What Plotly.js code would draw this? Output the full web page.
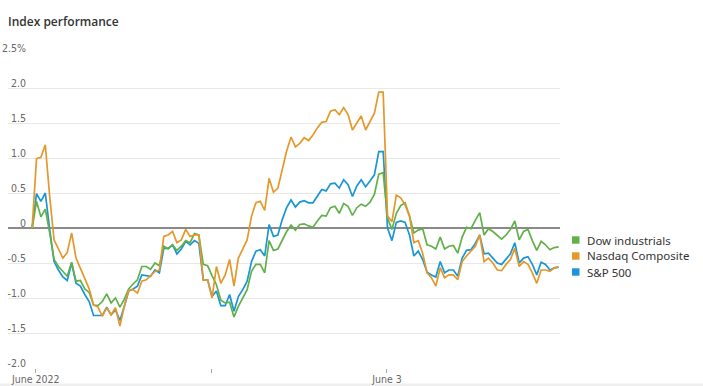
<!DOCTYPE html>
<html>
<head>
<meta charset="utf-8">
<script src="https://cdn.plot.ly/plotly-3.0.1.min.js"></script>
<style>
  html, body { margin: 0; padding: 0; background: #fff; }
  #chart { width: 703px; height: 386px; }
</style>
</head>
<body>
<div id="chart"></div>
<script>
// ---- Data (percent change) ----
const seriesNames = ['Dow industrials', 'Nasdaq Composite', 'S&P 500'];
const seriesColors = ['#62b04a', '#e5982a', '#1a96d5'];

const dow = [0, 0.38, 0.16, 0.27, -0.07, -0.45, -0.55, -0.62, -0.69, -0.49,
  -0.76, -0.75, -0.87, -0.92, -1.10, -1.11, -1.05, -0.94, -1.07, -1.00,
  -1.13, -1.02, -0.87, -0.80, -0.74, -0.55, -0.55, -0.59, -0.50, -0.54,
  -0.26, -0.30, -0.24, -0.32, -0.26, -0.18, -0.21, -0.08, -0.10, -0.52,
  -0.54, -0.68, -0.81, -1.03, -1.07, -1.06, -1.27, -1.12, -1.01, -0.88,
  -0.62, -0.52, -0.52, -0.64, -0.18, -0.32, -0.30, -0.17, -0.05, 0.04,
  -0.03, 0.05, 0.06, 0.03, 0.01, 0.10, 0.18, 0.17, 0.29, 0.31,
  0.21, 0.35, 0.31, 0.18, 0.29, 0.34, 0.31, 0.37, 0.48, 0.77,
  0.79, 0.14, -0.02, 0.21, 0.32, 0.36, 0.17, -0.07, -0.03, -0.01,
  -0.24, -0.26, -0.30, -0.13, -0.30, -0.26, -0.25, -0.36, -0.13, 0.01,
  -0.01, 0.11, 0.22, -0.10, -0.01, -0.05, -0.10, -0.16, -0.10, -0.02,
  0.10, -0.17, -0.05, -0.02, -0.18, -0.32, -0.19, -0.24, -0.31, -0.28,
  -0.27];

const nasdaq = [0, 0.99, 1.01, 1.19, 0.45, -0.17, -0.30, -0.43, -0.35, -0.07,
  -0.43, -0.57, -0.71, -0.87, -1.10, -1.13, -1.26, -1.14, -1.24, -1.14,
  -1.40, -1.12, -0.89, -0.88, -0.93, -0.76, -0.74, -0.68, -0.62, -0.60,
  -0.12, -0.10, -0.05, -0.21, -0.17, -0.02, -0.12, -0.10, -0.10, -0.74,
  -0.74, -1.00, -0.55, -0.79, -0.67, -0.45, -0.83, -0.43, -0.31, -0.17,
  0.17, 0.36, 0.38, 0.25, 0.71, 0.51, 0.57, 0.83, 1.10, 1.30,
  1.16, 1.21, 1.29, 1.25, 1.33, 1.43, 1.51, 1.52, 1.67, 1.69,
  1.62, 1.72, 1.62, 1.40, 1.51, 1.60, 1.40, 1.52, 1.64, 1.94,
  1.94, 0.17, 0.09, 0.47, 0.43, 0.33, 0.17, -0.21, -0.18, -0.36,
  -0.64, -0.71, -0.83, -0.57, -0.71, -0.67, -0.67, -0.74, -0.48, -0.40,
  -0.33, -0.26, -0.10, -0.48, -0.43, -0.50, -0.60, -0.61, -0.52, -0.45,
  -0.29, -0.55, -0.48, -0.52, -0.64, -0.79, -0.60, -0.60, -0.62, -0.57,
  -0.56];

const sp500 = [0, 0.49, 0.38, 0.50, -0.02, -0.48, -0.60, -0.70, -0.75, -0.50,
  -0.79, -0.83, -0.95, -1.05, -1.25, -1.25, -1.25, -1.13, -1.24, -1.17,
  -1.32, -1.12, -0.90, -0.87, -0.83, -0.67, -0.68, -0.69, -0.60, -0.64,
  -0.29, -0.29, -0.24, -0.37, -0.30, -0.19, -0.24, -0.18, -0.22, -0.74,
  -0.74, -0.98, -0.90, -1.11, -1.11, -0.95, -1.19, -0.98, -0.88, -0.76,
  -0.48, -0.33, -0.31, -0.40, 0.05, -0.12, -0.10, 0.12, 0.29, 0.40,
  0.30, 0.37, 0.39, 0.36, 0.36, 0.45, 0.55, 0.53, 0.63, 0.64,
  0.57, 0.69, 0.62, 0.45, 0.60, 0.69, 0.59, 0.67, 0.76, 1.09,
  1.09, 0.00, -0.18, 0.08, 0.10, 0.08, -0.10, -0.40, -0.33, -0.45,
  -0.63, -0.67, -0.70, -0.48, -0.64, -0.60, -0.60, -0.69, -0.43, -0.32,
  -0.31, -0.22, -0.10, -0.37, -0.36, -0.43, -0.50, -0.52, -0.45, -0.37,
  -0.21, -0.50, -0.43, -0.41, -0.52, -0.67, -0.49, -0.52, -0.60, -0.57,
  -0.56];

// Time steps (intraday sample index) and axis tick labels
const steps = dow.map((_, i) => i);
const xTickVals = [0.84, 40.85, 80.87];
const xTickText = ['June 2022', '', 'June 3'];
const yTickVals = [2.5, 2.0, 1.5, 1.0, 0.5, 0, -0.5, -1.0, -1.5, -2.0];
const yTickText = ['2.5%', '2.0', '1.5', '1.0', '0.5', '0', '-0.5', '-1.0', '-1.5', '-2.0'];

const seriesValues = [dow, nasdaq, sp500];
const drawOrder = [2, 0, 1];

const traces = drawOrder.map(k => ({
  type: 'scatter',
  mode: 'lines',
  x: steps,
  y: seriesValues[k],
  name: seriesNames[k],
  line: { color: seriesColors[k], width: 1.7 },
  hoverinfo: 'skip',
  showlegend: false
}));

// ---- Layout geometry (pixels) ----
const W = 703, H = 386;
const L = 8, R = 143, T = 53, B = 18;
const pw = W - L - R, ph = H - T - B;
const px = v => (v - L) / pw;
const py = v => (H - B - v) / ph;

const legendFont = { family: 'Noto Sans, Open Sans, sans-serif', size: 11.5, color: '#333' };
const annotations = [];
const shapes = [];
seriesNames.forEach((name, k) => {
  const cy = 240 + 16 * k;
  annotations.push({
    xref: 'paper', yref: 'paper', x: px(585), y: py(cy),
    xanchor: 'left', yanchor: 'middle', showarrow: false,
    text: name, font: legendFont
  });
  shapes.push({
    type: 'rect', xref: 'paper', yref: 'paper',
    x0: px(572), x1: px(579.5), y0: py(cy + 3.7), y1: py(cy - 3.7),
    fillcolor: seriesColors[k], line: { width: 0 }
  });
});
// faint grey strip at the very bottom of the frame
shapes.push({
  type: 'rect', xref: 'paper', yref: 'paper',
  x0: px(0), x1: px(W), y0: py(H), y1: py(H - 2.5),
  fillcolor: '#efefef', line: { width: 0 }, layer: 'below'
});

const tickFont = { family: 'Liberation Sans Narrow, DejaVu Sans Condensed, Roboto Condensed, sans-serif', size: 10.5, color: '#666' };

const layout = {
  width: W, height: H,
  margin: { l: L, r: R, t: T, b: B, pad: 0 },
  paper_bgcolor: '#fff',
  plot_bgcolor: '#fff',
  showlegend: false,
  title: {
    text: 'Index performance',
    xref: 'container', yref: 'container',
    x: 8 / W, xanchor: 'left',
    y: 1 - 22 / H, yanchor: 'middle',
    font: { family: 'Open Sans, Noto Sans, sans-serif', size: 12, weight: 600, color: '#333' }
  },
  xaxis: {
    range: [-5.5, 120.3],
    tickmode: 'array', tickvals: xTickVals, ticktext: xTickText,
    ticks: 'outside', ticklen: 4, tickwidth: 1, tickcolor: '#aaa',
    ticklabelstandoff: -3,
    showgrid: false, zeroline: false, showline: false,
    tickfont: tickFont, fixedrange: true
  },
  yaxis: {
    range: [-2.0, 2.5],
    tickmode: 'array', tickvals: yTickVals, ticktext: yTickText,
    ticks: '', showline: false,
    showgrid: true, gridcolor: '#e8e8e8', gridwidth: 1,
    zeroline: true, zerolinecolor: '#8a8a8a', zerolinewidth: 1.6,
    ticklabelstandoff: -19, ticklabelshift: -5,
    tickfont: tickFont, fixedrange: true
  },
  annotations: annotations,
  shapes: shapes
};

Plotly.newPlot('chart', traces, layout, { displayModeBar: false, staticPlot: true });
</script>
</body>
</html>
